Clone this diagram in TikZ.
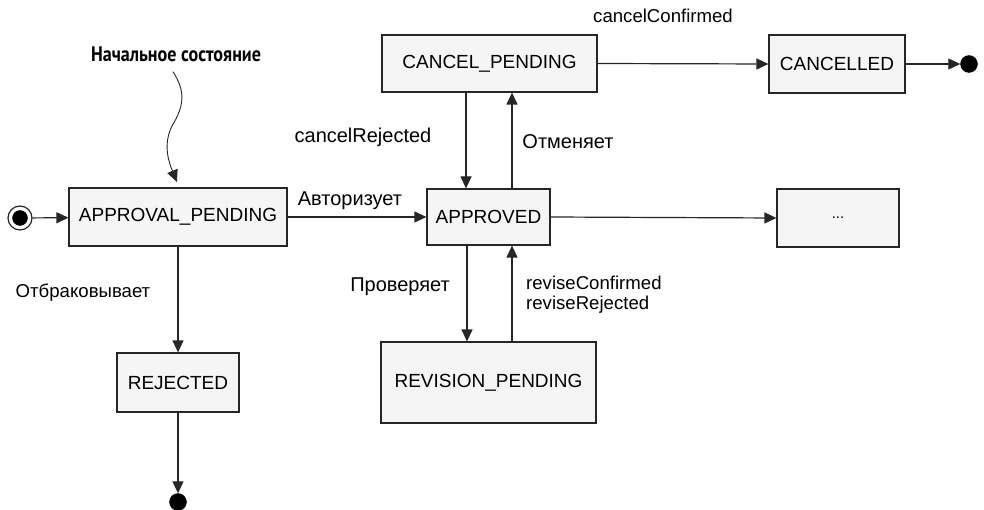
\documentclass[tikz,border=0pt]{standalone}
\usepackage{fontspec}
\setmainfont{Liberation Sans}
\newfontfamily\annfont[FakeStretch=0.86]{PT Sans}
\usetikzlibrary{arrows.meta}
\tikzset{
  state/.style={draw=black!85, line width=1.2pt, fill=black!4, inner sep=0pt,
    font=\fontsize{19}{21}\selectfont},
  arr/.style={draw=black!85, line width=1.2pt, -{Triangle[length=12pt,width=11pt]}},
  lbl/.style={font=\fontsize{20}{20}\selectfont, inner sep=0pt},
  lbls/.style={font=\fontsize{18.6}{20}\selectfont, inner sep=0pt},
  enddot/.style={circle, fill=black, draw=black, inner sep=0pt, minimum size=17pt},
}
\begin{document}
\begin{tikzpicture}[x=1pt,y=-1pt]
\useasboundingbox (0,0) rectangle (984,510);
% states
\node[state, minimum width=218pt, minimum height=58pt] (ap) at (178,217) {APPROVAL\_PENDING};
\node[state, minimum width=122pt, minimum height=59pt] (rej) at (178,382.5) {REJECTED};
\node[state, minimum width=215pt, minimum height=57pt] (cp) at (489.5,63.5) {CANCEL\_PENDING};
\node[state, minimum width=123pt, minimum height=56pt] (appr) at (488.5,217) {APPROVED};
\node[state, minimum width=136pt, minimum height=58pt] (canc) at (837,64) {CANCELLED};
\node[state, minimum width=122pt, minimum height=58pt] (dots) at (838,218) {\fontsize{15}{15}\selectfont ...};
\node[state, minimum width=215pt, minimum height=81pt] (rev) at (488.5,382.5) {REVISION\_PENDING};
% pseudo states
\node[circle, draw=black!85, line width=1.2pt, fill=white, inner sep=0pt, minimum size=24pt] (init) at (20,218) {};
\node[enddot, minimum size=15pt] at (init) {};
\node[enddot] (end1) at (969,64) {};
\node[enddot] (end2) at (178,502) {};
% transitions
\draw[arr] (init) -- (ap);
\draw[arr] (ap.east) -- (appr.west);
\draw[arr] (ap.south) -- (rej.north);
\draw[arr] (rej.south) -- (end2.north);
\draw[arr] (cp.east) -- (canc.west);
\draw[arr] (canc.east) -- (end1.west);
\draw[arr] (appr.east) -- (dots.west);
\draw[arr] ([xshift=-23.5pt]cp.south) -- ([xshift=-23.5pt]cp.south |- appr.north);
\draw[arr] ([xshift=23.5pt]appr.north) -- ([xshift=23.5pt]appr.north |- cp.south);
\draw[arr] ([xshift=-21.5pt]appr.south) -- ([xshift=-21.5pt]appr.south |- rev.north);
\draw[arr] ([xshift=23.5pt]rev.north) -- ([xshift=23.5pt]rev.north |- appr.south);
% labels
\node[lbl] (l1) at (350,201) {Авторизует};
\node[lbl] (l2) at (363,137) {cancelRejected};
\node[lbl] (l3) at (568,142) {Отменяет};
\node[lbl] (l4) at (400,287) {Проверяет};
\node[lbls, anchor=west, align=left] (l5) at (526,295) {reviseConfirmed\\reviseRejected};
\node[lbls] (l6) at (83,293) {Отбраковывает};
\node[lbls] (l7) at (663,16) {cancelConfirmed};
% annotation
\node[font=\annfont\bfseries\fontsize{21}{23}\selectfont, inner sep=0pt] (ann) at (176,54) {Начальное состояние};
\coordinate (annend) at (177,182);
\draw[draw=black!85, line width=0.9pt, -{Triangle[length=12pt,width=11pt]}]
  ([xshift=-3pt,yshift=-10pt]ann.south) .. controls (186,92) and (184,106) .. (172,126)
  .. controls (162,146) and (170,165) .. (annend);
\end{tikzpicture}
\end{document}
